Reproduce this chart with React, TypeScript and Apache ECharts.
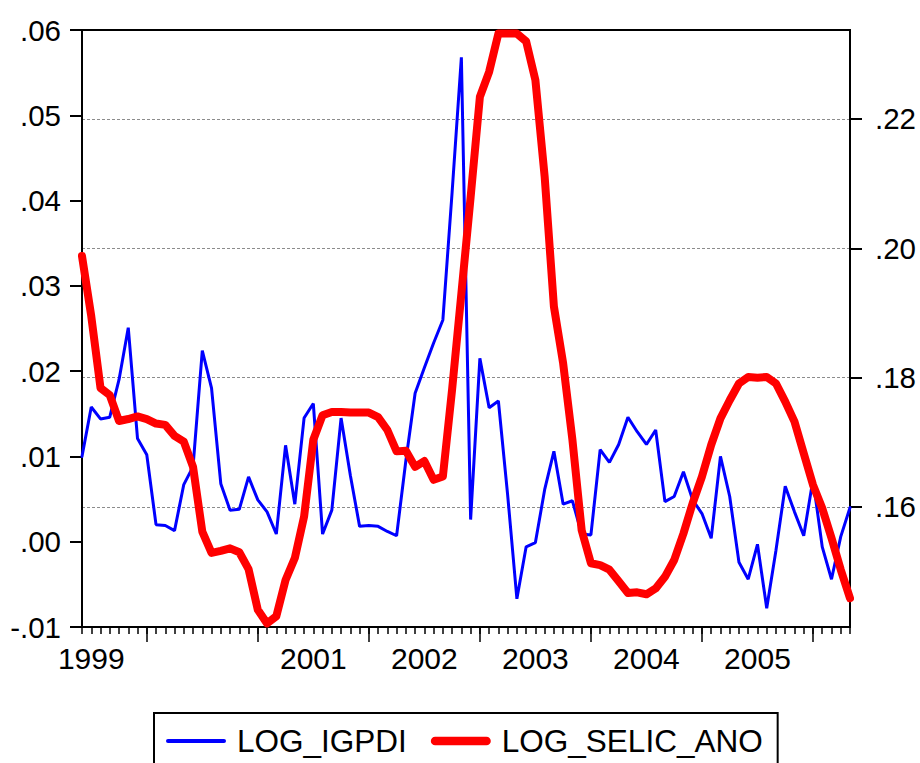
import React, { useEffect, useRef } from "react";
import * as echarts from "echarts";

const months = [
  "1999M06","1999M07","1999M08","1999M09","1999M10","1999M11","1999M12",
  "2000M01","2000M02","2000M03","2000M04","2000M05","2000M06","2000M07","2000M08","2000M09","2000M10","2000M11","2000M12",
  "2001M01","2001M02","2001M03","2001M04","2001M05","2001M06","2001M07","2001M08","2001M09","2001M10","2001M11","2001M12",
  "2002M01","2002M02","2002M03","2002M04","2002M05","2002M06","2002M07","2002M08","2002M09","2002M10","2002M11","2002M12",
  "2003M01","2003M02","2003M03","2003M04","2003M05","2003M06","2003M07","2003M08","2003M09","2003M10","2003M11","2003M12",
  "2004M01","2004M02","2004M03","2004M04","2004M05","2004M06","2004M07","2004M08","2004M09","2004M10","2004M11","2004M12",
  "2005M01","2005M02","2005M03","2005M04","2005M05","2005M06","2005M07","2005M08","2005M09","2005M10","2005M11","2005M12",
  "2006M01","2006M02","2006M03","2006M04","2006M05",
];

const logIgpdi = [
  0.0100, 0.0158, 0.0144, 0.0146, 0.0190, 0.0251, 0.0121, 0.0102, 0.0020, 0.0019,
  0.0013, 0.0067, 0.0088, 0.0224, 0.0180, 0.0068, 0.0037, 0.0038, 0.0076, 0.0049,
  0.0035, 0.0009, 0.0113, 0.0044, 0.0145, 0.0162, 0.0009, 0.0037, 0.0145, 0.0078,
  0.0018, 0.0019, 0.0018, 0.0012, 0.0007, 0.0095, 0.0174, 0.0204, 0.0233, 0.0260,
  0.0410, 0.0568, 0.0026, 0.0215, 0.0157, 0.0165, 0.0055, -0.0067, -0.0006, -0.0001,
  0.0061, 0.0106, 0.0044, 0.0048, 0.0009, 0.0008, 0.0108, 0.0093, 0.0114, 0.0146,
  0.0129, 0.0114, 0.0131, 0.0047, 0.0053, 0.0082, 0.0049, 0.0033, 0.0004, 0.0100,
  0.0053, -0.0024, -0.0044, -0.0003, -0.0078, -0.0010, 0.0065, 0.0035, 0.0007, 0.0073,
  -0.0006, -0.0044, 0.0006, 0.0040,
];

const logSelicAno = [
  0.1988, 0.1895, 0.1784, 0.1773, 0.1733, 0.1736, 0.1740, 0.1736, 0.1729, 0.1727,
  0.1710, 0.1701, 0.1662, 0.1562, 0.1529, 0.1532, 0.1536, 0.1530, 0.1504, 0.1441,
  0.1420, 0.1431, 0.1487, 0.1521, 0.1585, 0.1704, 0.1742, 0.1747, 0.1747, 0.1746,
  0.1746, 0.1746, 0.1739, 0.1719, 0.1686, 0.1687, 0.1662, 0.1671, 0.1642, 0.1647,
  0.1782, 0.1930, 0.2079, 0.2234, 0.2273, 0.2332, 0.2332, 0.2332, 0.2320, 0.2260,
  0.2111, 0.1910, 0.1822, 0.1704, 0.1564, 0.1513, 0.1510, 0.1503, 0.1485, 0.1467,
  0.1468, 0.1465, 0.1474, 0.1492, 0.1518, 0.1559, 0.1606, 0.1647, 0.1696, 0.1737,
  0.1765, 0.1791, 0.1801, 0.1800, 0.1801, 0.1791, 0.1763, 0.1732, 0.1683, 0.1634,
  0.1598, 0.1552, 0.1503, 0.1459,
];

const yearLabels = ["1999", "2001", "2002", "2003", "2004", "2005"];
const rightTickValues = [0.16, 0.18, 0.2, 0.22];
const leftMin = -0.01;
const leftMax = 0.06;
const leftInterval = 0.01;
const rightMin = 0.14144;
const rightMax = 0.23376;

const FONT = "'Liberation Sans', Arial, Helvetica, sans-serif";

const fmt = (v: number) => {
  const s = (Math.round(v * 100) / 100).toFixed(2);
  return s.replace("0.", ".");
};

const blueIcon = "path://M2,0 H58 A2,2 0 0 1 58,4 H2 A2,2 0 0 1 2,0 Z";
const redIcon = "path://M4.5,0 H57.5 A4.5,4.5 0 0 1 57.5,9 H4.5 A4.5,4.5 0 0 1 4.5,0 Z";

export default function App() {
  const ref = useRef<HTMLDivElement>(null);
  useEffect(() => {
    if (!ref.current) return;
    const chart = echarts.init(ref.current, undefined, { renderer: "svg" });
    const option: any = {
      animation: false,
      backgroundColor: "#ffffff",
      textStyle: { fontFamily: FONT },
      grid: {
        left: 82,
        top: 30,
        right: 70,
        bottom: 136,
        show: true,
        borderColor: "#000",
        borderWidth: 2,
        backgroundColor: "transparent",
      },
      legend: {
        left: 154,
        top: 713,
        orient: "horizontal",
        borderColor: "#000",
        borderWidth: 2,
        borderRadius: 0,
        padding: [12, 15, 12, 12],
        itemWidth: 60,
        itemHeight: 12,
        itemGap: 24,
        symbolKeepAspect: true,
        textStyle: {
          fontSize: 31.5,
          fontFamily: FONT,
          color: "#000",
          padding: [0, 0, 0, 6],
        },
        data: [
          { name: "LOG_IGPDI", icon: blueIcon },
          { name: "LOG_SELIC_ANO", icon: redIcon },
        ],
      },
      xAxis: [
        {
          type: "category",
          position: "bottom",
          data: months,
          boundaryGap: false,
          axisLine: { show: true, onZero: false, lineStyle: { color: "#000", width: 2 } },
          axisTick: { show: true, interval: 0, length: 7, lineStyle: { color: "#000", width: 1.5 } },
          axisLabel: { show: false },
          splitLine: { show: false },
        },
        {
          type: "category",
          position: "bottom",
          data: months,
          boundaryGap: false,
          axisLine: { show: false, onZero: false },
          axisTick: {
            show: true,
            interval: (_i: number, v: string) => v.endsWith("M01"),
            length: 15,
            lineStyle: { color: "#000", width: 1.5 },
          },
          axisLabel: { show: false },
          splitLine: { show: false },
        },
        {
          type: "category",
          position: "bottom",
          data: months,
          boundaryGap: false,
          axisLine: { show: false, onZero: false },
          axisTick: { show: false },
          axisLabel: {
            show: true,
            interval: (_i: number, v: string) =>
              v.endsWith("M07") && yearLabels.includes(v.slice(0, 4)),
            formatter: (v: string) => v.slice(0, 4),
            fontSize: 30,
            fontFamily: FONT,
            color: "#000",
            margin: 16,
          },
          splitLine: { show: false },
        },
      ],
      yAxis: [
        {
          type: "value",
          position: "left",
          min: leftMin,
          max: leftMax,
          interval: leftInterval,
          axisLine: { show: true, onZero: false, lineStyle: { color: "#000", width: 2 } },
          axisTick: { show: true, length: 12, lineStyle: { color: "#000", width: 2 } },
          axisLabel: {
            formatter: fmt,
            fontSize: 29.5,
            fontFamily: FONT,
            color: "#000",
            margin: 21,
          },
          splitLine: { show: false },
        },
        {
          type: "value",
          position: "right",
          min: rightMin,
          max: rightMax,
          axisLine: { show: true, onZero: false, lineStyle: { color: "#000", width: 2 } },
          axisTick: {
            show: true,
            length: 12,
            customValues: rightTickValues,
            lineStyle: { color: "#000", width: 2 },
          },
          axisLabel: {
            customValues: rightTickValues,
            formatter: fmt,
            fontSize: 29.5,
            fontFamily: FONT,
            color: "#000",
            margin: 25,
          },
          splitLine: {
            show: true,
            lineStyle: { color: "#8c8c8c", width: 1, type: [3, 2] },
          },
        },
      ],
      series: [
        {
          name: "LOG_IGPDI",
          type: "line",
          xAxisIndex: 0,
          yAxisIndex: 0,
          data: logIgpdi,
          symbol: "none",
          showSymbol: false,
          lineStyle: { color: "#0000ff", width: 3, cap: "round" },
          itemStyle: { color: "#0000ff" },
          z: 3,
        },
        {
          name: "LOG_SELIC_ANO",
          type: "line",
          xAxisIndex: 0,
          yAxisIndex: 1,
          data: logSelicAno,
          symbol: "none",
          showSymbol: false,
          lineStyle: { color: "#ff0000", width: 8, cap: "round", join: "round" },
          itemStyle: { color: "#ff0000" },
          z: 4,
        },
      ],
    };
    chart.setOption(option);
    return () => chart.dispose();
  }, []);
  return (
    <div
      ref={ref}
      style={{ position: "fixed", left: 0, top: 0, width: 920, height: 763, background: "#fff" }}
    />
  );
}
